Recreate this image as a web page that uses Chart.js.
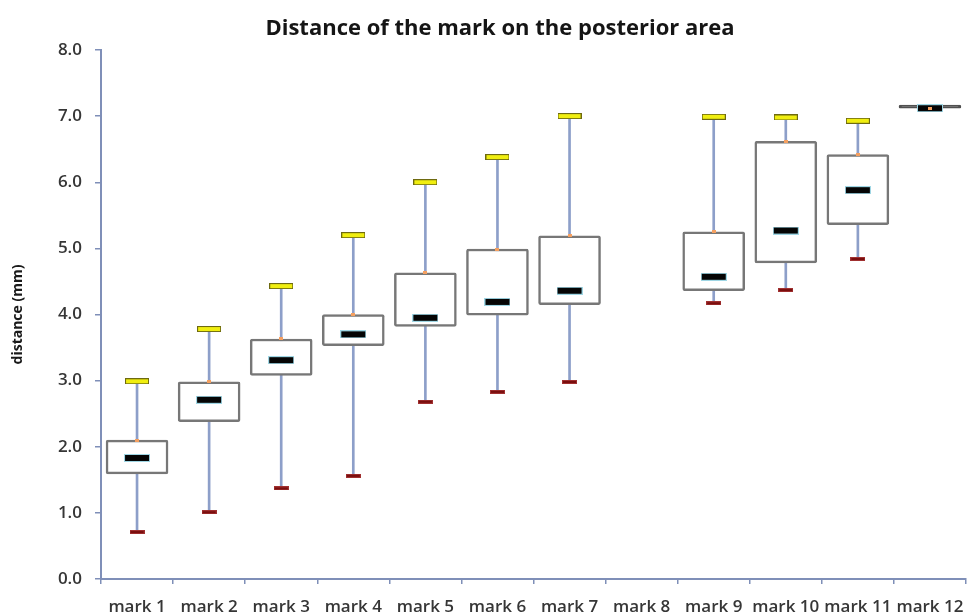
<!DOCTYPE html>
<html>
<head>
<meta charset="utf-8">
<script src="https://cdn.jsdelivr.net/npm/chart.js@4/dist/chart.umd.min.js"></script>
<style>
  html, body { margin: 0; padding: 0; background: #ffffff; overflow: hidden; }
  #wrap { width: 973px; height: 615px; position: relative; }
  #chart { display: block; }
</style>
</head>
<body>
<div id="wrap"><canvas id="chart" width="973" height="615"></canvas></div>
<script>
// Box-plot summary per mark (mm)
const categories = ['mark 1', 'mark 2', 'mark 3', 'mark 4', 'mark 5', 'mark 6',
                    'mark 7', 'mark 8', 'mark 9', 'mark 10', 'mark 11', 'mark 12'];
const minVals    = [0.71, 1.01, 1.37, 1.56, 2.68, 2.83, 2.98, null, 4.17, 4.37, 4.84, 7.12];
const q1Vals     = [1.59, 2.38, 3.08, 3.53, 3.82, 3.99, 4.15, null, 4.36, 4.78, 5.36, 7.12];
const medianVals = [1.83, 2.71, 3.31, 3.70, 3.95, 4.19, 4.36, null, 4.57, 5.27, 5.88, 7.12];
const q3Vals     = [2.10, 2.98, 3.63, 4.00, 4.63, 4.99, 5.19, null, 5.25, 6.62, 6.42, 7.12];
const maxVals    = [2.99, 3.78, 4.43, 5.20, 6.00, 6.38, 7.00, null, 6.99, 6.98, 6.93, 7.12];
const yTicks     = [0, 1, 2, 3, 4, 5, 6, 7, 8];

const chartTitle = 'Distance of the mark on the posterior area';
const yTitle = 'distance (mm)';

// small canvas sprites used as point styles for caps, medians and markers
function sprite(w, h, draw) {
  const c = document.createElement('canvas');
  c.width = w; c.height = h;
  draw(c.getContext('2d'), w, h);
  return c;
}
const yellowCap = sprite(24, 6, (g, w, h) => {
  g.fillStyle = '#6e6a10'; g.fillRect(0, 0, w, h);
  g.fillStyle = '#f0ee10'; g.fillRect(1, 1, w - 2, h - 2);
});
const redCap = sprite(15, 4, (g, w, h) => {
  g.fillStyle = '#a03030'; g.fillRect(0, 0, w, h);
  g.fillStyle = '#7a0e0e'; g.fillRect(1, 1, w - 2, h - 2);
});
const medianMark = sprite(26, 8, (g, w, h) => {
  g.fillStyle = '#9fd6e4'; g.fillRect(0, 0, w, h);
  g.fillStyle = '#050505'; g.fillRect(1, 1, w - 2, h - 2);
});
const dot = sprite(4, 3, (g, w, h) => {
  g.fillStyle = '#f5a060'; g.fillRect(0, 0, w, h);
});

const pairs = (a, b) => a.map((v, i) => (v == null || b[i] == null) ? null : [v, b[i]]);

const axisColor = '#7f8fb8';
const labelColor = '#363636';
const boxEdge = '#777777';

const titlePlugin = {
  id: 'centredTitle',
  afterDraw(chart) {
    const ctx = chart.ctx;
    ctx.save();
    ctx.font = 'bold 22px "Open Sans"';
    ctx.fillStyle = '#151515';
    ctx.textAlign = 'center';
    ctx.textBaseline = 'middle';
    ctx.fillText(chartTitle, 500, 29);
    ctx.restore();
  }
};

const markerDefaults = { type: 'line', showLine: false, pointRadius: 6, pointHoverRadius: 6 };

new Chart(document.getElementById('chart'), {
  type: 'bar',
  data: {
    labels: categories,
    datasets: [
      { // whisker line min..max
        label: 'whisker', data: pairs(minVals, maxVals),
        backgroundColor: '#8d9fc9', borderWidth: 0,
        barThickness: 2, grouped: false, order: 6
      },
      { // interquartile box
        label: 'box', data: pairs(q1Vals, q3Vals),
        backgroundColor: (c) => (c.raw && c.raw[0] === c.raw[1]) ? '#505050' : '#ffffff',
        borderColor: (c) => (c.raw && c.raw[0] === c.raw[1]) ? '#505050' : boxEdge,
        borderWidth: 2.5,
        borderSkipped: false, borderRadius: 2, minBarLength: 3,
        barThickness: 62, grouped: false, order: 5
      },
      Object.assign({ label: 'min', data: minVals, pointStyle: redCap, order: 4 }, markerDefaults),
      Object.assign({ label: 'max', data: maxVals, pointStyle: yellowCap, order: 3 }, markerDefaults),
      Object.assign({ label: 'median', data: medianVals, pointStyle: medianMark, order: 2 }, markerDefaults),
      Object.assign({ label: 'q3 marker', data: q3Vals, pointStyle: dot, order: 1 }, markerDefaults)
    ]
  },
  options: {
    responsive: false,
    animation: false,
    events: [],
    layout: { padding: { top: 50, right: 1, left: 0, bottom: 0 } },
    plugins: { legend: { display: false }, tooltip: { enabled: false }, title: { display: false } },
    scales: {
      x: {
        offset: true,
        grid: { display: true, drawOnChartArea: false, offset: true, tickLength: 5, color: axisColor, lineWidth: 1.5 },
        border: { display: true, color: axisColor, width: 2 },
        ticks: { color: labelColor, font: { family: 'Open Sans', size: 17, weight: '600' }, padding: 13, maxRotation: 0, autoSkip: false },
        afterFit: (s) => { s.height = 36; s.paddingLeft = 0; s.paddingRight = 0; }
      },
      y: {
        min: 0, max: 8,
        afterBuildTicks: (s) => { s.ticks = yTicks.map(v => ({ value: v })); },
        grid: { display: true, drawOnChartArea: false, tickLength: 6, color: axisColor, lineWidth: 1.5 },
        border: { display: true, color: axisColor, width: 2 },
        ticks: { color: labelColor, font: { family: 'Open Sans', size: 17, weight: '600' }, padding: 13,
                 callback: (v) => Number(v).toFixed(1) },
        title: { display: true, text: yTitle, color: '#1a1a1a', font: { family: 'Open Sans', size: 14, weight: 'bold' },
                 padding: { top: 10, bottom: 0 } },
        afterFit: (s) => { s.width = 101; s.paddingTop = 0; s.paddingBottom = 0; }
      }
    }
  },
  plugins: [titlePlugin]
});
</script>
</body>
</html>
